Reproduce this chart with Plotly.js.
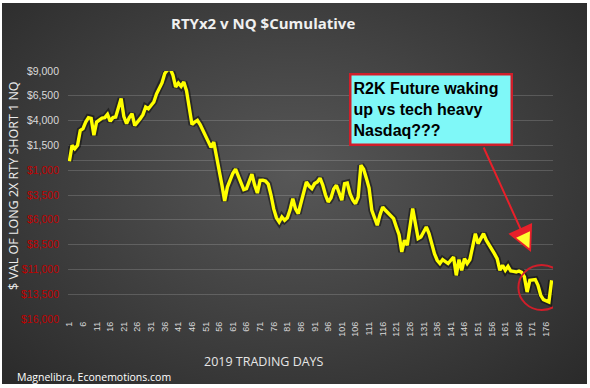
<!DOCTYPE html>
<html>
<head>
<meta charset="utf-8">
<script src="https://cdn.plot.ly/plotly-3.0.1.min.js"></script>
<style>
  html, body { margin: 0; padding: 0; background: #ffffff; }
  #wrap { position: relative; width: 590px; height: 388px; }
  #bg { position: absolute; left: 2px; top: 3px; width: 585px; height: 381px;
        background: radial-gradient(ellipse at 50% 45%, #575757 0%, #434343 45%, #2a2a2a 100%); }
  #chart { position: absolute; left: 0; top: 0; width: 590px; height: 388px; }
</style>
</head>
<body>
<div id="wrap"><div id="bg"></div><div id="chart"></div></div>
<script>
// ---- data ----
const cumulative = [
  -100, 1500, 1150, 1500, 3000, 3200, 3860, 4300, 4230, 2520,
  3860, 4100, 4250, 4300, 4630, 3930, 4300, 4360, 5200, 6220,
  4400, 3700, 4300, 4700, 3500, 3800, 4200, 4600, 5370, 5200,
  5600, 5880, 6700, 7300, 7800, 8740, 9100, 9240, 8600, 7390,
  7790, 7460, 7890, 7000, 5000, 3600, 3860, 4030, 3600, 3000,
  2500, 2000, 1300, 1840, 500, -1200, -2500, -4100, -2700, -2000,
  -1300, -900, -1600, -2300, -2950, -2850, -2000, -1400, -2500, -3300,
  -2020, -2000, -2090, -2400, -3500, -4900, -5800, -6220, -5720, -6050,
  -5800, -5000, -3860, -4900, -5370, -4200, -3200, -2190, -2600, -2850,
  -2350, -2190, -1800, -2500, -3500, -4200, -3800, -2900, -2520, -3300,
  -4030, -2350, -2290, -3360, -4000, -4370, -3700, -500, -900, -1800,
  -2800, -5040, -5900, -6550, -5500, -4710, -5040, -5300, -5550, -5880,
  -6720, -7500, -9240, -8060, -8570, -6500, -4870, -6380, -7890, -7730,
  -7200, -6720, -7390, -8570, -9410, -10080, -10410, -10010, -10200, -10410,
  -10080, -9750, -11600, -10010, -11090, -9910, -10410, -10000, -8740, -7390,
  -8400, -7800, -7390, -8060, -8570, -9000, -9410, -9910, -11090, -10580,
  -11090, -10690, -11160, -11200, -11260, -11160, -11300, -11760, -13280, -12100,
  -12050, -12030, -12600, -13610, -14040, -14150, -14280, -12100
];
// trading day categories 1..N
const days = cumulative.map((_, i) => i + 1);
const xTickVals = [1,6,11,16,21,26,31,36,41,46,51,56,61,66,71,76,81,86,91,96,101,106,111,116,121,126,131,136,141,146,151,156,161,166,171,176];
const xTickLabels = xTickVals.map(String);
const yTickVals = [9000, 6500, 4000, 1500, -1000, -3500, -6000, -8500, -11000, -13500, -16000];
const yTickLabels = ['$9,000','$6,500','$4,000','$1,500','$1,000','$3,500','$6,000','$8,500','$11,000','$13,500','$16,000'];

const chartTitle = 'RTYx2 v NQ $Cumulative';
const yTitle = '$ VAL OF LONG 2X RTY SHORT 1 NQ';
const xTitle = '2019 TRADING DAYS';
const sourceText = 'Magnelibra, Econemotions.com';
const calloutText = 'R2K Future waking<br>up vs tech heavy<br>Nasdaq???';

const yTickText = yTickLabels.map((t, i) =>
  yTickVals[i] < 0 ? '<span style="color:#c00000">' + t + '</span>' : t);

const grid = 'rgba(255,255,255,0.16)';

const traces = [
  { x: days, y: cumulative, type: 'scatter', mode: 'lines',
    line: { color: 'rgba(0,0,0,0.45)', width: 7 }, hoverinfo: 'skip', showlegend: false },
  { x: days, y: cumulative, type: 'scatter', mode: 'lines',
    line: { color: '#ffff00', width: 3.4 }, showlegend: false }
];

const arrowAx = -48, arrowAy = -106;
const arrowLen = Math.sqrt(arrowAx * arrowAx + arrowAy * arrowAy);

const layout = {
  width: 590, height: 388,
  paper_bgcolor: 'rgba(0,0,0,0)', plot_bgcolor: 'rgba(0,0,0,0)',
  margin: { l: 68, r: 37, t: 71, b: 69 },
  showlegend: false,
  title: { text: chartTitle, xref: 'container', x: 0.446, xanchor: 'center',
           yref: 'container', y: 0.938, yanchor: 'middle',
           font: { family: 'Open Sans', size: 15, color: '#f0f0f0', weight: 'bold' } },
  xaxis: {
    range: [0.5, days.length + 0.5], tickmode: 'array', tickvals: xTickVals, ticktext: xTickLabels,
    tickangle: -90, tickfont: { family: 'Liberation Sans', size: 9, color: '#d9d9d9' },
    showgrid: false, zeroline: false, showline: false, ticks: ''
  },
  yaxis: {
    range: [-16000, 9000], tickmode: 'array', tickvals: yTickVals, ticktext: yTickText,
    tickfont: { family: 'Liberation Sans', size: 10.5, color: '#d9d9d9' },
    ticklabelstandoff: 8,
    showgrid: true, gridcolor: grid, gridwidth: 1,
    zeroline: true, zerolinecolor: grid, zerolinewidth: 1, showline: false, ticks: ''
  },
  shapes: [
    { type: 'circle', xref: 'x', yref: 'y', x0: 165.8, x1: 183, y0: -15090, y1: -10560,
      line: { color: '#d01e2a', width: 2 } }
  ],
  annotations: [
    { text: calloutText, xref: 'paper', yref: 'paper', x: 0.5794, y: 0.993,
      xanchor: 'left', yanchor: 'top', showarrow: false, align: 'left',
      width: 155, height: 64, borderpad: 2, borderwidth: 2.5,
      bgcolor: '#7ff8f8', bordercolor: '#d01e2a',
      font: { family: 'Liberation Sans', size: 16, color: '#000000', weight: 'bold' } },
    { text: '', xref: 'paper', yref: 'paper', x: 0.9546, y: 0.2702,
      showarrow: true, ax: arrowAx, ay: arrowAy, arrowcolor: '#e8202a', arrowwidth: 2,
      arrowhead: 2, arrowsize: 2.6 },
    { text: '', xref: 'paper', yref: 'paper', x: 0.9546, y: 0.2702,
      showarrow: true, ax: arrowAx, ay: arrowAy, arrowcolor: '#ffff30', arrowwidth: 1.6,
      arrowhead: 2, arrowsize: 1.9, standoff: 4, startstandoff: arrowLen - 14 },
    { text: yTitle, xref: 'paper', yref: 'paper', x: (13 - 68) / 485, y: (319 - 186) / 248,
      xanchor: 'center', yanchor: 'middle', textangle: -90, showarrow: false,
      font: { family: 'Open Sans', size: 12.5, color: '#ececec' } },
    { text: xTitle, xref: 'paper', yref: 'paper', x: (264 - 68) / 485, y: (319 - 361.7) / 248,
      xanchor: 'center', yanchor: 'middle', showarrow: false,
      font: { family: 'Open Sans', size: 12.5, color: '#e6e6e6' } },
    { text: sourceText, xref: 'paper', yref: 'paper', x: (15 - 68) / 485, y: (319 - 377) / 248,
      xanchor: 'left', yanchor: 'middle', showarrow: false,
      font: { family: 'Open Sans', size: 10.5, color: '#ffffff' } }
  ]
};

Plotly.newPlot('chart', traces, layout, { displayModeBar: false, staticPlot: true });
</script>
</body>
</html>
